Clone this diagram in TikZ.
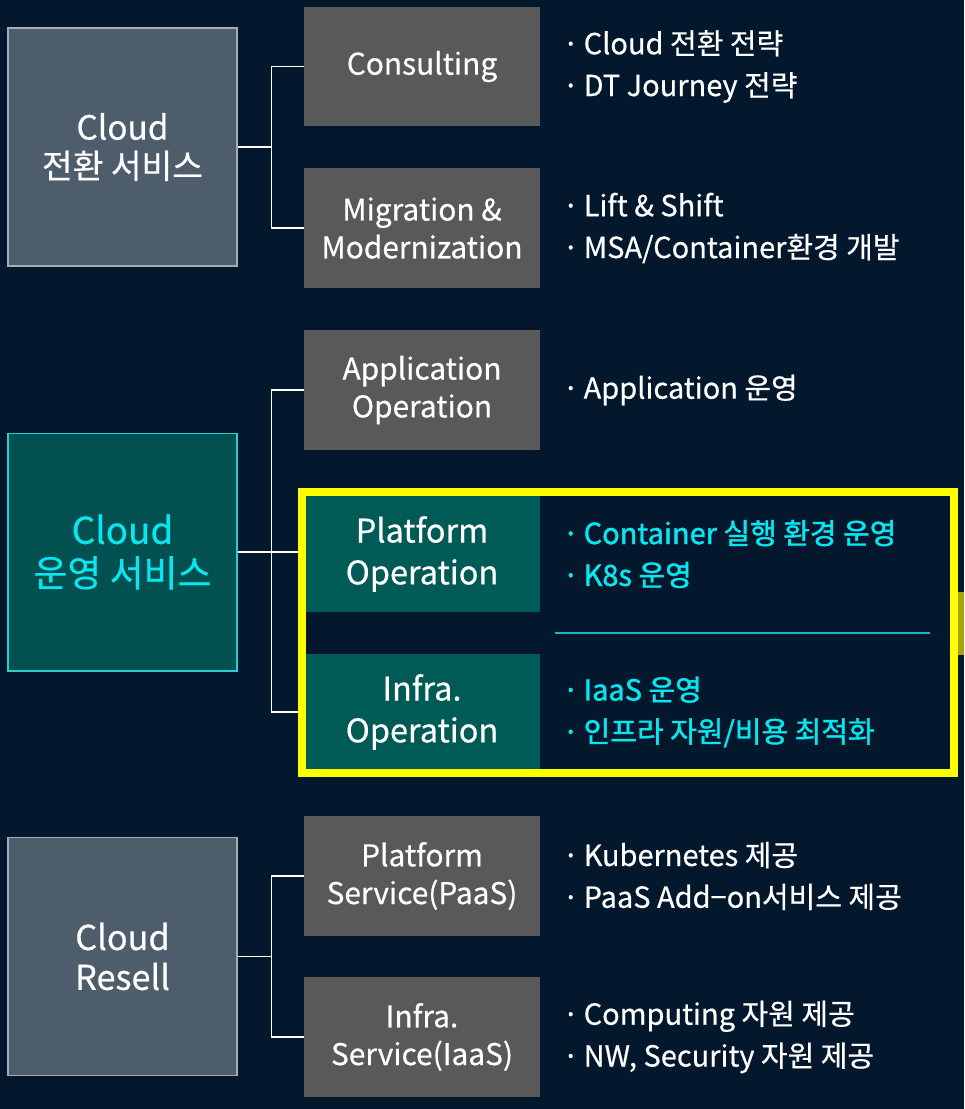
\documentclass[tikz,border=0pt]{standalone}
\usepackage{fontspec}
\setmainfont{Noto Sans CJK KR}[FakeBold=0.5]
\newfontfamily\strongfont{Noto Sans CJK KR}[FakeBold=1.4]
\usetikzlibrary{positioning}
\definecolor{bgnavy}{HTML}{03182D}
\definecolor{slate}{HTML}{4E5D6C}
\definecolor{slateedge}{HTML}{A4ACB4}
\definecolor{tealdark}{HTML}{02504F}
\definecolor{tealedge}{HTML}{2CCDD2}
\definecolor{tealmid}{HTML}{005A55}
\definecolor{midgray}{HTML}{595959}
\definecolor{cyantext}{HTML}{08E6F0}
\definecolor{divline}{HTML}{1CB4C4}
\definecolor{hiyellow}{HTML}{FFFF00}
\newcommand{\itemdot}{\makebox[0.46cm][l]{\hspace{0.04cm}·}}

\begin{document}
\begin{tikzpicture}[x=0.02cm,y=-0.02cm,
	group/.style={draw=#1,line width=0.6pt,minimum width=4.58cm,minimum height=4.76cm,align=center,inner sep=0pt},
	grayitem/.style={fill=midgray,text=white,minimum width=4.72cm,minimum height=2.4cm,align=center,inner sep=0pt,font=\fontsize{17}{21.5}\selectfont},
	tealitem/.style={fill=tealmid,text=white,minimum width=4.72cm,minimum height=2.32cm,align=center,inner sep=0pt,font=\fontsize{18.5}{23.8}\selectfont},
	bullets/.style={anchor=west,align=left,inner sep=0pt,font=\fontsize{16.5}{23.8}\selectfont},
	link/.style={draw=white,line width=1.1pt}]
\useasboundingbox (0,0) rectangle (964,1109);
\fill[bgnavy] (0,0) rectangle (964,1109);
\fill[hiyellow!65!black] (958,592) rectangle (964,655);

% service groups
\node[group=slateedge,fill=slate,text=white,font=\fontsize{19}{22}\selectfont] (cloudconv) at (122.5,147) {Cloud\\전환 서비스};
\node[group=tealedge,fill=tealdark,text=cyantext,font=\fontsize{21}{24.4}\selectfont] (cloudops) at (122.5,552) {Cloud\\운영 서비스};
\node[group=slateedge,fill=slate,text=white,font=\fontsize{19.5}{22.7}\selectfont] (cloudresell) at (122.5,956.5) {Cloud\\Resell};

% offerings
\foreach \n/\y/\s/\t in {
	consult/66.5/grayitem/{Consulting},
	migrate/228/grayitem/{Migration \&\\Modernization},
	appop/390/grayitem/{Application\\Operation},
	platop/554/tealitem/{Platform\\Operation},
	infraop/712/tealitem/{Infra.\\Operation},
	paas/876/grayitem/{Platform\\Service(PaaS)},
	iaas/1037/grayitem/{Infra.\\Service(IaaS)}%
	}
	{\node[\s] (\n) at (422,\y) {\t};}

% details
\foreach \n/\c/\t in {
	consult/white/{\itemdot Cloud 전환 전략\\\itemdot DT Journey 전략},
	migrate/white/{\itemdot Lift \& Shift\\\itemdot MSA/Container환경 개발},
	appop/white/{\itemdot Application 운영},
	platop/cyantext/{\strongfont\itemdot Container 실행 환경 운영\\\strongfont\itemdot K8s 운영},
	infraop/cyantext/{\strongfont\itemdot IaaS 운영\\\strongfont\itemdot 인프라 자원/비용 최적화},
	paas/white/{\itemdot Kubernetes 제공\\\itemdot PaaS Add−on서비스 제공},
	iaas/white/{\itemdot Computing 자원 제공\\\itemdot NW, Security 자원 제공}%
	}
	{\node[bullets,text=\c] (\n-txt) at ([xshift=0.4cm]\n.east) {\t};}

% connectors
\coordinate (j1) at ([xshift=0.68cm]cloudconv.east);
\coordinate (j2) at ([xshift=0.68cm]cloudops.east);
\coordinate (j3) at ([xshift=0.68cm]cloudresell.east);
\draw[link] (cloudconv.east) -- (j1) (j1) |- (consult.west) (j1) |- (migrate.west);
\draw[link] (cloudops.east) -- (cloudops.east -| platop.west) (j2) |- (appop.west) (j2) |- (infraop.west);
\draw[link] (cloudresell.east) -- (j3) (j3) |- (paas.west) (j3) |- (iaas.west);

\draw[divline,line width=1.1pt] (555,633) -- (930,633);
\draw[hiyellow,line width=0.16cm] (302,492) rectangle (954,773);

\end{tikzpicture}
\end{document}
